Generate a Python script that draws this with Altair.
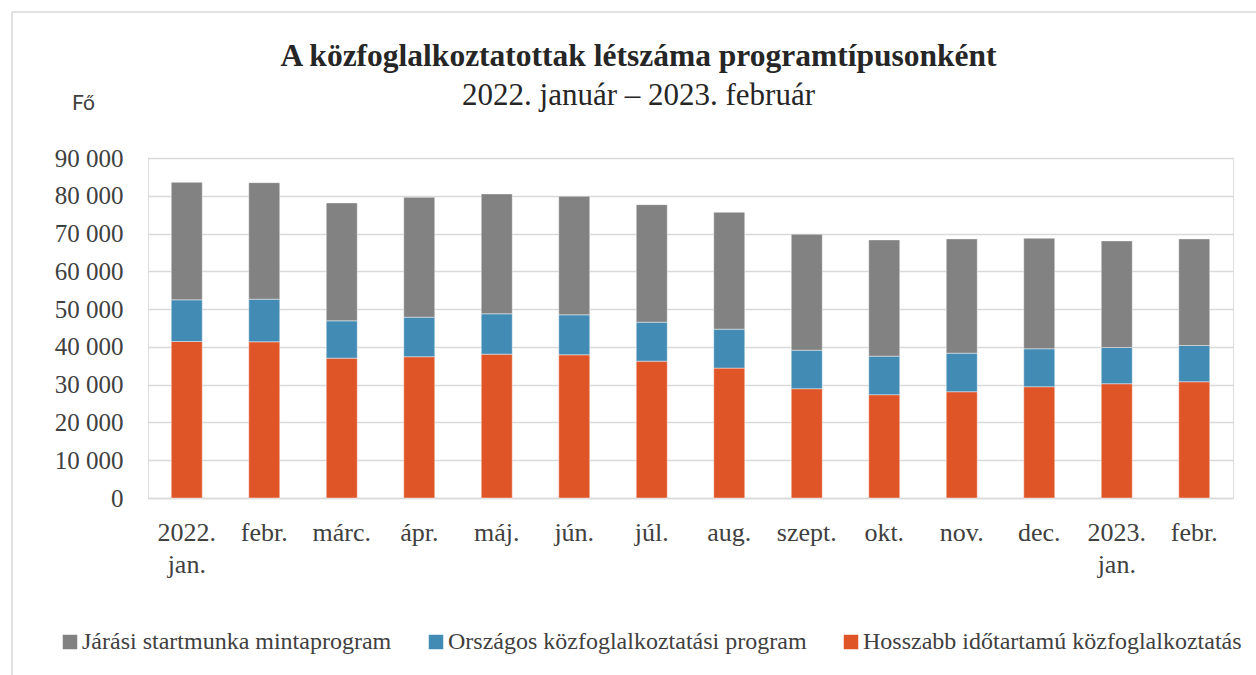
import json
import altair as alt
import pandas as pd

# x categories (multi-line tick labels)
months = [["2022.", "jan."], ["febr."], ["márc."], ["ápr."], ["máj."], ["jún."],
          ["júl."], ["aug."], ["szept."], ["okt."], ["nov."], ["dec."],
          ["2023.", "jan."], ["febr."]]

series = ["Járási startmunka mintaprogram",
          "Országos közfoglalkoztatási program",
          "Hosszabb időtartamú közfoglalkoztatás"]
colors = ["#828282", "#428BB5", "#E05528"]

jarasi = [31100, 30850, 31200, 31730, 31730, 31360, 31110, 30930, 30670, 30770, 30250, 29250, 28210, 28210]
orszagos = [11020, 11270, 9880, 10470, 10680, 10580, 10310, 10310, 10200, 10210, 10210, 10050, 9600, 9600]
hosszabb = [41430, 41350, 37020, 37390, 38080, 37910, 36230, 34380, 28930, 27340, 28130, 29450, 30250, 30780]

rows = []
for i in range(len(months)):
    for name, vals, o in [(series[2], hosszabb, 0), (series[1], orszagos, 1), (series[0], jarasi, 2)]:
        rows.append({"idx": i, "series": name, "value": vals[i], "ord": o})
df = pd.DataFrame(rows)

SERIF = "Liberation Serif"
TXT = "#404040"
GRID = "#d9d9d9"

label_expr = json.dumps(months, ensure_ascii=False) + "[datum.value]"

bars = alt.Chart(df).mark_bar(stroke="white", strokeWidth=0.6, strokeOpacity=0.7).encode(
    x=alt.X("idx:O",
            scale=alt.Scale(paddingInner=0.6, paddingOuter=0.3),
            axis=alt.Axis(title=None, labelExpr=label_expr, labelAngle=0,
                          labelFont=SERIF, labelFontSize=26, labelColor=TXT,
                          labelLineHeight=32, labelPadding=21, labelBaseline="top",
                          ticks=False, domainColor=GRID, domainWidth=1.5)),
    y=alt.Y("value:Q", stack="zero",
            scale=alt.Scale(domain=[0, 90000]),
            axis=alt.Axis(values=list(range(0, 90001, 10000)),
                          labelExpr="replace(format(datum.value, ','), ',', ' ')",
                          labelFont=SERIF, labelFontSize=25, labelColor=TXT,
                          labelPadding=25, ticks=False, domain=False,
                          gridColor=GRID, gridWidth=1.5,
                          title="Fő", titleAngle=0, titleX=-65, titleY=-55,
                          titleAlign="center", titleBaseline="middle",
                          titleFont="Lato", titleFontSize=21, titleFontWeight="normal",
                          titleColor=TXT)),
    color=alt.Color("series:N",
                    scale=alt.Scale(domain=series, range=colors),
                    legend=alt.Legend(title=None, orient="none", legendX=-90, legendY=472,
                                      padding=0,
                                      direction="horizontal", symbolType="square",
                                      symbolSize=210, symbolStrokeWidth=0,
                                      labelFont=SERIF, labelFontSize=24, labelColor=TXT,
                                      labelLimit=0, labelOffset=0, columnPadding=32)),
    order=alt.Order("ord:Q"),
)

frame_data = alt.Data(values=[{"a": 1}])
frame_left = alt.Chart(frame_data).mark_rule(color=GRID, strokeWidth=1.5).encode(
    x=alt.value(-136), y=alt.value(-146), y2=alt.value(600))
frame_top = alt.Chart(frame_data).mark_rule(color=GRID, strokeWidth=1.5).encode(
    x=alt.value(-136), x2=alt.value(1200), y=alt.value(-146))

chart = alt.layer(frame_left, frame_top, bars).properties(
    width=1085, height=340,
    autosize=alt.AutoSizeParams(type="none"),
    padding={"left": 148, "top": 158, "right": 23, "bottom": 177},
    title=alt.TitleParams(
        text="A közfoglalkoztatottak létszáma programtípusonként",
        subtitle="2022. január – 2023. február",
        font=SERIF, fontSize=31.5, fontWeight="bold", color="#262626",
        subtitleFont=SERIF, subtitleFontSize=31, subtitleColor="#262626",
        subtitlePadding=9, anchor="middle", dx=-52, offset=-100),
).configure_view(stroke=None).configure(background="white")

chart.save("out.html", embed_options={"renderer": "svg", "actions": False})
